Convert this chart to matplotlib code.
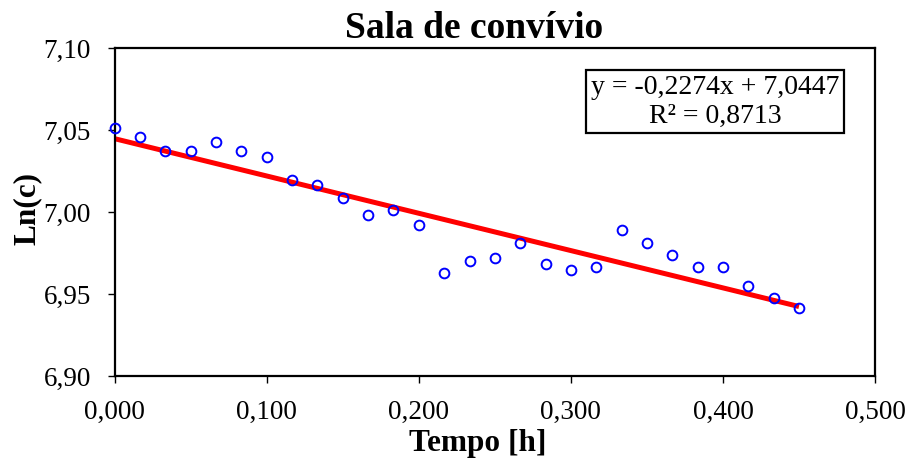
import numpy as np
import matplotlib
matplotlib.use("Agg")
import matplotlib.pyplot as plt
from matplotlib.ticker import FuncFormatter, MultipleLocator

# tempo em horas (uma medição por minuto)
tempo_min = list(range(28))
ln_c = [7.0512, 7.0459, 7.0370, 7.0374, 7.0425, 7.0372, 7.0338, 7.0196,
        7.0164, 7.0087, 6.9979, 7.0013, 6.9923, 6.9627, 6.9700, 6.9720,
        6.9811, 6.9682, 6.9645, 6.9663, 6.9888, 6.9813, 6.9738, 6.9663,
        6.9663, 6.9548, 6.9473, 6.9416]

# regressão linear mostrada no gráfico
declive = -0.2274
ordenada = 7.0447
r2 = 0.8713

tempo_h = np.array(tempo_min) / 60.0

plt.rcParams["font.family"] = ["Liberation Serif", "DejaVu Serif"]

fig = plt.figure(figsize=(9.09, 4.62), dpi=100)
ax = fig.add_axes([0.1262, 0.1861, 0.8364, 0.7100])

x_fit = np.array([tempo_h[0], tempo_h[-1]])
ax.plot(x_fit, declive * x_fit + ordenada, color="#ff0000", lw=3.6, zorder=2,
        solid_capstyle="butt")
ax.plot(tempo_h, ln_c, "o", ms=7, mfc="none", mec="#0000ff", mew=1.4,
        zorder=3, clip_on=False)

ax.set_xlim(0, 0.5)
ax.set_ylim(6.90, 7.10)
ax.xaxis.set_major_locator(MultipleLocator(0.1))
ax.yaxis.set_major_locator(MultipleLocator(0.05))
ax.xaxis.set_major_formatter(FuncFormatter(lambda v, p: f"{v:.3f}".replace(".", ",")))
ax.yaxis.set_major_formatter(FuncFormatter(lambda v, p: f"{v:.2f}".replace(".", ",")))
ax.tick_params(direction="out", length=5, width=1, labelsize=19.5, colors="black")
ax.tick_params(axis="x", pad=12)
ax.tick_params(axis="y", pad=12)

for s in ax.spines.values():
    s.set_linewidth(1.6)
    s.set_color("black")

eq = f"y = {declive:.4f}x + {ordenada:.4f}".replace(".", ",")
eq += "\n" + f"R² = {r2:.4f}".replace(".", ",")
ax.text(0.7896, 0.836, eq, transform=ax.transAxes, ha="center", va="center",
        fontsize=20, linespacing=1.2,
        bbox=dict(boxstyle="square,pad=0.17", fc="white", ec="black", lw=1.6))

fig.text(474 / 909, 1 - 29 / 462, "Sala de convívio", ha="center", va="center",
         fontsize=27, fontweight="bold")
fig.text(478 / 909, 1 - 443 / 462, "Tempo [h]", ha="center", va="center",
         fontsize=22.5, fontweight="bold")
fig.text(27 / 909, 1 - 208 / 462, "Ln(c)", ha="center", va="center",
         fontsize=22.5, fontweight="bold", rotation=90)

fig.savefig("out.png", dpi=100)
